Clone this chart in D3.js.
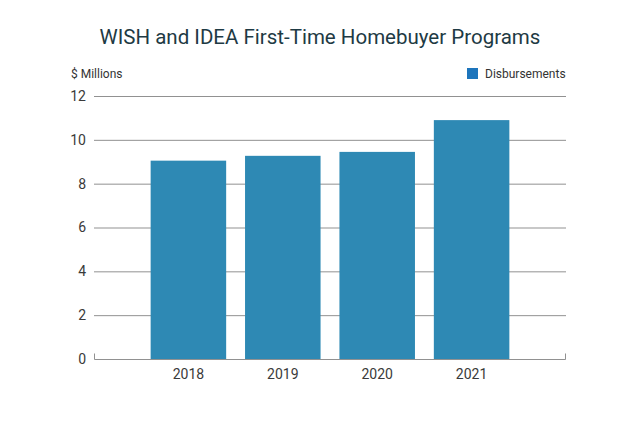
<!DOCTYPE html>
<html lang="en">
  <head>
    <meta charset="UTF-8" />
    <title>WISH and IDEA First-Time Homebuyer Programs</title>
    <style>
      html,
      body {
        margin: 0;
        background: #fff;
      }
      svg text {
        font-family: Roboto, "Noto Sans", sans-serif;
      }
    </style>
    <script src="https://cdn.jsdelivr.net/npm/d3@7"></script>
  </head>
  <body>
    <script>
      const width = 635;
      const height = 425;

      // data
      const years = ["2018", "2019", "2020", "2021"];
      const disbursements = [9.05, 9.27, 9.45, 10.9];
      const yTicks = [0, 2, 4, 6, 8, 10, 12];

      const margin = { left: 94, right: 69, top: 96, bottom: 66 };

      const svg = d3
        .select("body")
        .append("svg")
        .attr("width", width)
        .attr("height", height);

      // title
      svg
        .append("text")
        .attr("x", 320)
        .attr("y", 44)
        .attr("text-anchor", "middle")
        .attr("font-size", 20.5)
        .attr("fill", "#1e3a44")
        .text("WISH and IDEA First-Time Homebuyer Programs");

      const xScale = d3
        .scaleBand()
        .domain(years)
        .range([margin.left, width - margin.right])
        .paddingInner(0.2)
        .paddingOuter(0.6);

      const yScale = d3
        .scaleLinear()
        .domain([0, 12])
        .range([height - margin.bottom, margin.top]);

      // grid lines
      svg
        .append("g")
        .selectAll("line")
        .data(yTicks.slice(1))
        .enter()
        .append("line")
        .attr("x1", margin.left)
        .attr("x2", width - margin.right)
        .attr("y1", (d) => yScale(d) + 0.5)
        .attr("y2", (d) => yScale(d) + 0.5)
        .attr("stroke", "#919191")
        .attr("stroke-width", 1);

      // y axis labels
      const yAxis = d3
        .axisLeft(yScale)
        .tickValues(yTicks)
        .tickSize(0)
        .tickPadding(8);
      svg
        .append("g")
        .attr("transform", `translate(${margin.left}, 0)`)
        .call(yAxis)
        .call((g) => g.select(".domain").remove())
        .call((g) =>
          g.selectAll("text").attr("font-size", 14).attr("fill", "#3a3a3a")
        );

      // bars
      svg
        .selectAll(".bar")
        .data(years)
        .enter()
        .append("rect")
        .attr("class", "bar")
        .attr("x", (d) => xScale(d))
        .attr("width", xScale.bandwidth())
        .attr("y", (d, i) => yScale(disbursements[i]))
        .attr("height", (d, i) => yScale(0) - yScale(disbursements[i]))
        .attr("fill", "#2e89b4");

      // baseline with end ticks
      const y0 = yScale(0) + 0.5;
      svg
        .append("path")
        .attr(
          "d",
          `M${margin.left + 0.5},${y0 - 6}V${y0}H${width - margin.right - 0.5}V${y0 - 6}`
        )
        .attr("fill", "none")
        .attr("stroke", "#919191");

      // x axis labels
      const xAxis = d3.axisBottom(xScale).tickSize(0).tickPadding(10);
      svg
        .append("g")
        .attr("transform", `translate(0, ${yScale(0)})`)
        .call(xAxis)
        .call((g) => g.select(".domain").remove())
        .call((g) =>
          g.selectAll("text").attr("font-size", 14).attr("fill", "#3a3a3a")
        );

      // y unit
      svg
        .append("text")
        .attr("x", 71)
        .attr("y", 78)
        .attr("font-size", 12)
        .attr("fill", "#333")
        .text("$ Millions");

      // legend
      svg
        .append("rect")
        .attr("x", 467)
        .attr("y", 68)
        .attr("width", 11)
        .attr("height", 11)
        .attr("fill", "#1d75bc");
      svg
        .append("text")
        .attr("x", 485)
        .attr("y", 78)
        .attr("font-size", 12)
        .attr("fill", "#333")
        .text("Disbursements");
    </script>
  </body>
</html>
